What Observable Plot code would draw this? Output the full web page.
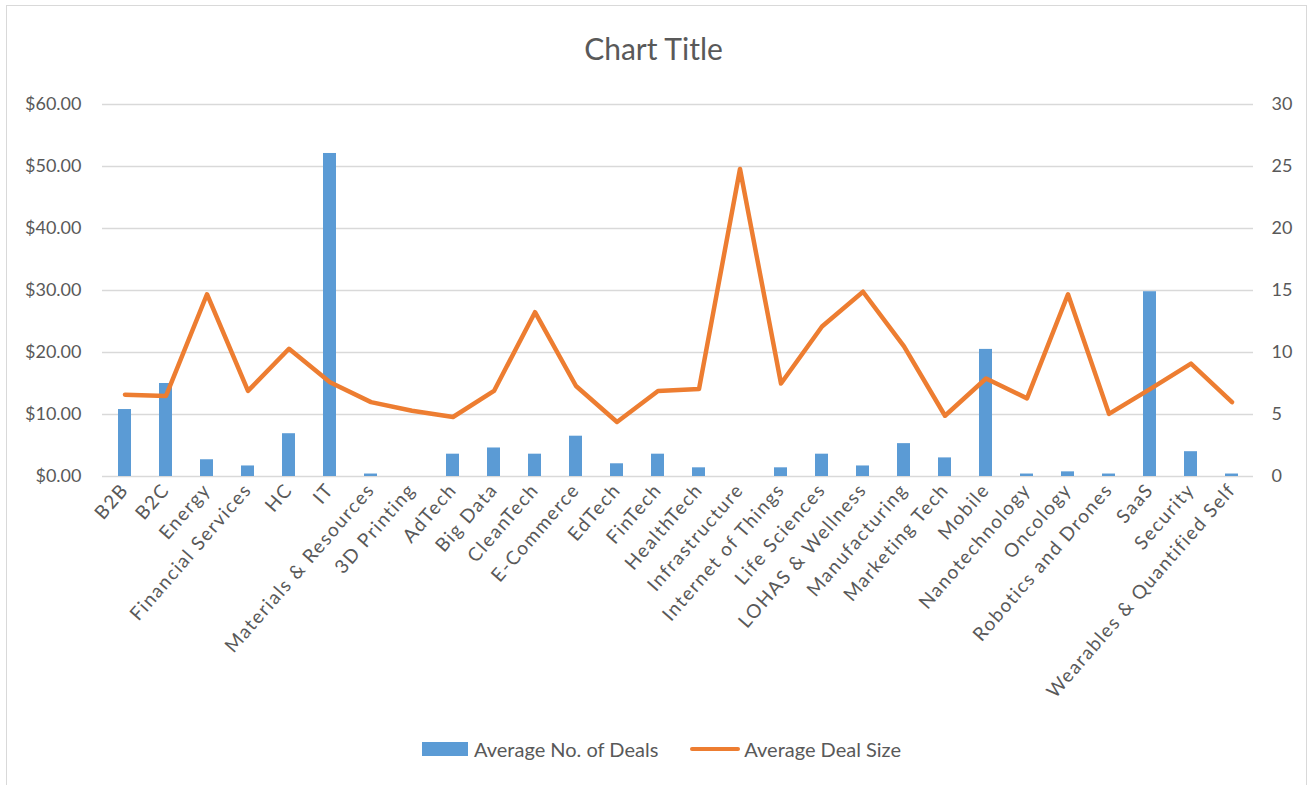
<!DOCTYPE html>
<html>
<head>
<meta charset="utf-8">
<script src="https://cdn.jsdelivr.net/npm/d3@7"></script>
<script src="https://cdn.jsdelivr.net/npm/@observablehq/plot@0.6"></script>
<style>
  html, body { margin: 0; padding: 0; background: #fff; }
  body { width: 1315px; height: 785px; overflow: hidden; position: relative; font-family: Lato, "Open Sans", sans-serif; color: #595959; }
  #frame { position: absolute; left: 6px; top: 5px; width: 1301px; height: 820px; border: 1.5px solid #d9d9d9; box-sizing: border-box; }
  #title { position: absolute; left: -4px; top: 28px; width: 1315px; text-align: center; font-size: 30px; line-height: 40px; }
  #chart { position: absolute; left: 0; top: 80px; }
  #chart g[aria-label="x-axis tick label"] text { letter-spacing: 1.5px; }
  #legend { position: absolute; left: 422px; top: 736px; display: flex; align-items: center; font-size: 20px; line-height: 26px; }
  .sw-bar { width: 46px; height: 14px; background: #5B9BD5; margin-right: 6px; }
  .sw-line { width: 50px; height: 4.5px; background: #ED7D31; border-radius: 2px; margin-right: 4px; margin-left: 32px; }
</style>
</head>
<body>
<div id="frame"></div>
<div id="title">Chart Title</div>
<div id="chart"></div>
<div id="legend">
  <span class="sw-bar"></span><span>Average No. of Deals</span>
  <span class="sw-line"></span><span>Average Deal Size</span>
</div>
<script>
// Sectors along the category axis
const categories = [
  "B2B", "B2C", "Energy", "Financial Services", "HC", "IT",
  "Materials & Resources", "3D Printing", "AdTech", "Big Data", "CleanTech",
  "E-Commerce", "EdTech", "FinTech", "HealthTech", "Infrastructure",
  "Internet of Things", "Life Sciences", "LOHAS & Wellness", "Manufacturing",
  "Marketing Tech", "Mobile", "Nanotechnology", "Oncology",
  "Robotics and Drones", "SaaS", "Security", "Wearables & Quantified Self"
];

// Average No. of Deals (columns, primary axis)
const avgDeals = [
  10.8, 15.0, 2.7, 1.7, 6.9, 52.1,
  0.4, 0, 3.6, 4.6, 3.6,
  6.5, 2.05, 3.6, 1.4, 0,
  1.4, 3.6, 1.7, 5.3,
  3.0, 20.5, 0.4, 0.75,
  0.4, 29.8, 4.0, 0.4
];

// Average Deal Size (line, secondary axis)
const avgDealSize = [
  6.6, 6.5, 14.7, 6.9, 10.3, 7.6,
  6.0, 5.3, 4.8, 6.9, 13.25,
  7.3, 4.4, 6.9, 7.05, 24.8,
  7.5, 12.1, 14.9, 10.5,
  4.9, 7.9, 6.3, 14.7,
  5.05, 7.05, 9.1, 6.0
];

// Axis ticks
const leftTicks = [0, 10, 20, 30, 40, 50, 60];
const rightTicks = [0, 5, 10, 15, 20, 25, 30];

const rows = categories.map((category, i) => ({
  category,
  deals: avgDeals[i],
  size: avgDealSize[i]
}));

// The secondary axis runs 0–30 over the same height as the primary 0–60
const secondary = leftTicks[leftTicks.length - 1] / rightTicks[rightTicks.length - 1];

const chart = Plot.plot({
  width: 1315,
  height: 640,
  marginTop: 24,
  marginBottom: 244,
  marginLeft: 102,
  marginRight: 62,
  style: { fontFamily: "Lato, 'Open Sans', sans-serif", fontSize: "18px", color: "#595959", background: "transparent", overflow: "visible" },
  x: { type: "band", domain: categories, paddingInner: 0.69, paddingOuter: 0.345, label: null },
  y: { domain: [0, 60], label: null },
  marks: [
    Plot.ruleY(leftTicks, { stroke: "#d9d9d9", strokeWidth: 1.5 }),
    Plot.axisY({ ticks: leftTicks, tickFormat: d => "$" + d.toFixed(2), tickSize: 0, tickPadding: 21, label: null }),
    Plot.axisY({ anchor: "right", ticks: rightTicks.map(v => v * secondary), tickFormat: v => String(v / secondary), tickSize: 0, tickPadding: 18, label: null }),
    Plot.axisX({ tickRotate: -49, tickSize: 0, tickPadding: 10, fontSize: 19, label: null, ariaLabel: "x-axis" }),
    Plot.barY(rows, { x: "category", y: "deals", fill: "#5B9BD5" }),
    Plot.lineY(rows, { x: "category", y: d => d.size * secondary, stroke: "#ED7D31", strokeWidth: 4.5, strokeLinejoin: "round", strokeLinecap: "round" })
  ]
});

document.getElementById("chart").appendChild(chart);
</script>
</body>
</html>
